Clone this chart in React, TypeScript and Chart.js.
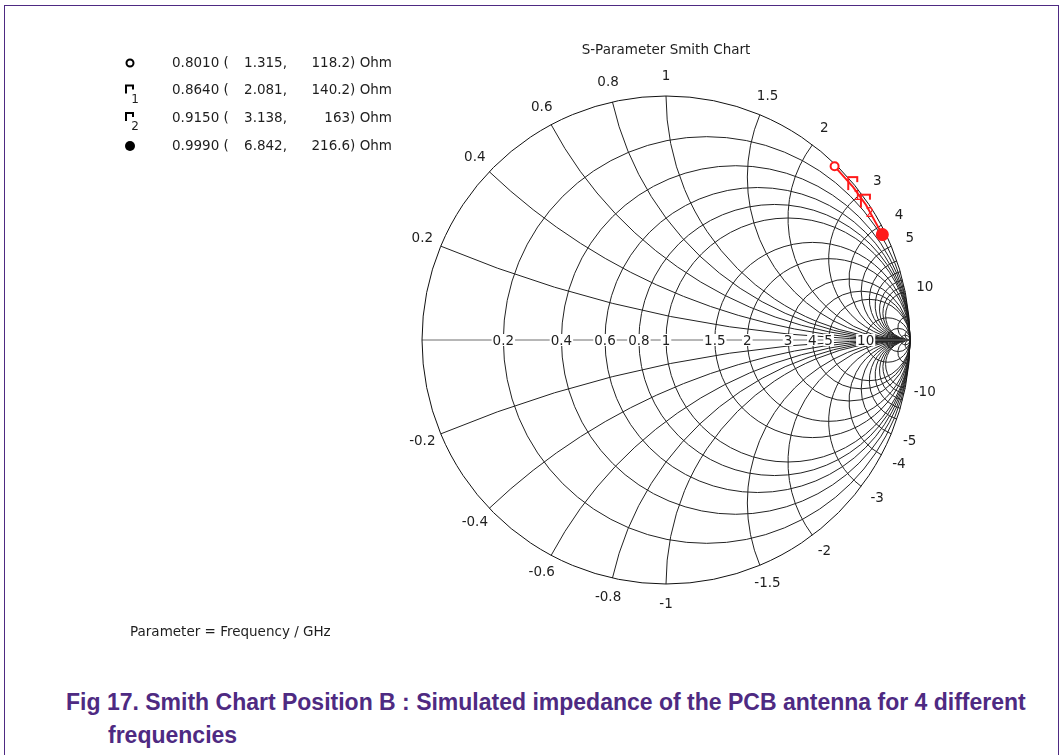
import React, { useEffect, useRef } from 'react';
import { Chart, registerables } from 'chart.js';
Chart.register(...registerables);

// ---- data ----
const Z0 = 50;
const freqGHz = [0.801, 0.864, 0.915, 0.999];
const resistanceOhm = [1.315, 2.081, 3.138, 6.842];
const reactanceOhm = [118.2, 140.2, 163, 216.6];
const markerNames = ['', '1', '2', ''];

// ---- Smith grid values and tick labels ----
const gridResistance = [0.2, 0.4, 0.6, 0.8, 1, 1.5, 2, 3, 4, 5, 10, 20, 50];
const gridReactance = [0.2, 0.4, 0.6, 0.8, 1, 1.5, 2, 3, 4, 5, 6, 7, 8, 9, 10, 20, 50];
const resistanceLabels = ['0.2', '0.4', '0.6', '0.8', '1', '1.5', '2', '3', '4', '5', '10'];
const reactanceLabels = ['0.2', '0.4', '0.6', '0.8', '1', '1.5', '2', '3', '4', '5', '10'];

const TITLE = 'S-Parameter Smith Chart';
const PARAM_TEXT = 'Parameter = Frequency / GHz';
const CAPTION1 = 'Fig 17. Smith Chart Position B : Simulated impedance of the PCB antenna for 4 different';
const CAPTION2 = 'frequencies';

const W = 1063;
const H = 672;
const CX = 666;
const CY = 340;
const RAD = 244;
const FONT = '13.5px "DejaVu Sans", sans-serif';
const TEXT_COLOR = '#1e1e1e';
const GRID_COLOR = '#222';
const RED = '#ff1a1a';
const PURPLE = '#4e2a82';

function gamma(r: number, x: number) {
  const den = (r + 1) * (r + 1) + x * x;
  return { re: (r * r + x * x - 1) / den, im: (2 * x) / den };
}

function makeBracket(color: string) {
  const c = document.createElement('canvas');
  c.width = 20;
  c.height = 24;
  const g = c.getContext('2d')!;
  g.strokeStyle = color;
  g.lineWidth = 2;
  g.beginPath();
  // data point sits at the canvas centre (10, 12)
  g.moveTo(5, 15);
  g.lineTo(5, 2);
  g.lineTo(14, 2);
  g.lineTo(14, 7);
  g.stroke();
  return c;
}

function drawBracket(ctx: CanvasRenderingContext2D, x: number, y: number, color: string) {
  ctx.save();
  ctx.strokeStyle = color;
  ctx.lineWidth = 2;
  ctx.beginPath();
  ctx.moveTo(x - 4, y + 4);
  ctx.lineTo(x - 4, y - 4);
  ctx.lineTo(x + 3, y - 4);
  ctx.lineTo(x + 3, y);
  ctx.stroke();
  ctx.restore();
}

const smithPlugin = {
  id: 'smithGrid',
  beforeDatasetsDraw(chart: any) {
    const { ctx } = chart;
    const sx = chart.scales.x;
    const sy = chart.scales.y;
    const px = (v: number) => sx.getPixelForValue(v);
    const py = (v: number) => sy.getPixelForValue(v);
    const cx = px(0);
    const cy = py(0);
    const R = px(1) - px(0);
    ctx.save();
    ctx.lineWidth = 1;
    ctx.strokeStyle = GRID_COLOR;
    // resistance circles
    gridResistance.forEach((r) => {
      ctx.beginPath();
      ctx.arc(px(r / (1 + r)), cy, R / (1 + r), 0, Math.PI * 2);
      ctx.stroke();
    });
    // reactance arcs
    gridReactance.forEach((x) => {
      [1, -1].forEach((s) => {
        const xv = s * x;
        const ccx = px(1);
        const ccy = py(1 / xv);
        const g = gamma(0, xv);
        const a0 = Math.atan2(py(g.im) - ccy, px(g.re) - ccx);
        const a1 = Math.atan2(cy - ccy, px(1) - ccx);
        ctx.beginPath();
        ctx.arc(ccx, ccy, R / x, a0, a1, xv > 0);
        ctx.stroke();
      });
    });
    // real axis
    ctx.strokeStyle = '#6e6e6e';
    ctx.beginPath();
    ctx.moveTo(px(-1), cy);
    ctx.lineTo(px(1), cy);
    ctx.stroke();
    // outer circle
    ctx.strokeStyle = '#111';
    ctx.beginPath();
    ctx.arc(cx, cy, R, 0, Math.PI * 2);
    ctx.stroke();

    // labels
    ctx.font = FONT;
    ctx.textAlign = 'center';
    ctx.textBaseline = 'middle';
    resistanceLabels.forEach((lab) => {
      const r = parseFloat(lab);
      const x = px((r - 1) / (r + 1));
      const w = ctx.measureText(lab).width;
      ctx.fillStyle = '#fff';
      ctx.fillRect(x - w / 2 - 1, cy - 6, w + 2, 12);
      ctx.fillStyle = TEXT_COLOR;
      ctx.fillText(lab, x, cy + 1);
    });
    reactanceLabels.forEach((lab) => {
      const v = parseFloat(lab);
      [1, -1].forEach((s) => {
        const g = gamma(0, s * v);
        const lx = cx + (R + 20) * g.re;
        const ly = cy - (R + 20) * g.im;
        ctx.fillStyle = TEXT_COLOR;
        ctx.fillText(s < 0 ? '-' + lab : lab, lx, ly);
      });
    });
    ctx.restore();
  },
  afterDatasetsDraw(chart: any) {
    const { ctx } = chart;
    const meta = chart.getDatasetMeta(0);
    ctx.save();
    ctx.font = FONT;
    ctx.fillStyle = RED;
    ctx.textAlign = 'center';
    ctx.textBaseline = 'middle';
    markerNames.forEach((n, i) => {
      if (!n) return;
      const el = meta.data[i];
      ctx.fillText(n, el.x + 4, el.y + 9);
    });
    ctx.restore();
  },
  afterDraw(chart: any) {
    const { ctx } = chart;
    ctx.save();
    ctx.font = FONT;
    ctx.fillStyle = TEXT_COLOR;
    ctx.textBaseline = 'middle';
    ctx.textAlign = 'center';
    ctx.fillText(TITLE, 666, 50);
    ctx.textAlign = 'left';
    ctx.fillText(PARAM_TEXT, 130, 632);

    // legend
    const rows = [63, 90.5, 118, 146];
    rows.forEach((y, i) => {
      const mx = 130;
      if (i === 0) {
        ctx.beginPath();
        ctx.arc(mx, y, 3.5, 0, Math.PI * 2);
        ctx.fillStyle = '#fff';
        ctx.fill();
        ctx.lineWidth = 2;
        ctx.strokeStyle = '#000';
        ctx.stroke();
      } else if (i === rows.length - 1) {
        ctx.beginPath();
        ctx.arc(mx, y, 5, 0, Math.PI * 2);
        ctx.fillStyle = '#000';
        ctx.fill();
      } else {
        drawBracket(ctx, mx, y - 1, '#000');
        ctx.fillStyle = TEXT_COLOR;
        ctx.font = '12px "DejaVu Sans", sans-serif';
        ctx.textAlign = 'center';
        ctx.fillText(markerNames[i], mx + 5, y + 9);
      }
      ctx.font = FONT;
      ctx.fillStyle = TEXT_COLOR;
      ctx.textAlign = 'left';
      ctx.fillText(freqGHz[i].toFixed(4) + ' (', 172, y);
      ctx.textAlign = 'right';
      ctx.fillText(resistanceOhm[i].toFixed(3) + ',', 287, y);
      ctx.fillText(String(reactanceOhm[i]) + ') Ohm', 392, y);
    });
    ctx.restore();
  },
};

export default function App() {
  const canvasRef = useRef<HTMLCanvasElement | null>(null);

  useEffect(() => {
    const canvas = canvasRef.current;
    if (!canvas) return;
    const bracket = makeBracket(RED);
    const pts = freqGHz.map((_, i) => {
      const g = gamma(resistanceOhm[i] / Z0, reactanceOhm[i] / Z0);
      return { x: g.re, y: g.im };
    });
    const chart = new Chart(canvas, {
      type: 'scatter',
      data: {
        datasets: [
          {
            label: 'S11',
            data: pts,
            showLine: true,
            borderColor: RED,
            borderWidth: 2,
            pointStyle: ['circle', bracket, bracket, 'circle'] as any,
            pointRadius: [4, 8, 8, 5.5],
            pointBorderWidth: 2,
            pointBorderColor: RED,
            pointBackgroundColor: ['#ffffff', RED, RED, RED],
            clip: false as any,
          },
        ],
      },
      options: {
        responsive: false,
        maintainAspectRatio: false,
        devicePixelRatio: 1,
        animation: false,
        layout: { padding: 0, autoPadding: false } as any,
        events: [],
        scales: {
          x: { type: 'linear', display: false, min: -CX / RAD, max: (W - CX) / RAD },
          y: { type: 'linear', display: false, min: -(H - CY) / RAD, max: CY / RAD },
        },
        plugins: {
          legend: { display: false },
          tooltip: { enabled: false },
          title: { display: false },
        },
      },
      plugins: [smithPlugin],
    });
    return () => chart.destroy();
  }, []);

  return (
    <div style={{ position: 'absolute', left: 0, top: 0, width: W, height: 755, overflow: 'hidden', background: '#fff' }}>
      <div
        style={{
          position: 'absolute',
          left: 4,
          top: 5,
          width: 1055,
          height: 800,
          boxSizing: 'border-box',
          borderLeft: `1px solid ${PURPLE}`,
          borderRight: `1px solid ${PURPLE}`,
          borderTop: `1px solid ${PURPLE}`,
        }}
      />
      <canvas ref={canvasRef} width={W} height={H} style={{ position: 'absolute', left: 0, top: 0, width: W, height: H }} />
      <div
        style={{
          position: 'absolute',
          left: 66,
          top: 686,
          font: 'bold 23px "Liberation Sans", Arial, sans-serif',
          lineHeight: '33px',
          color: PURPLE,
          whiteSpace: 'nowrap',
        }}
      >
        {CAPTION1}
      </div>
      <div
        style={{
          position: 'absolute',
          left: 108,
          top: 719,
          font: 'bold 23px "Liberation Sans", Arial, sans-serif',
          lineHeight: '33px',
          color: PURPLE,
          whiteSpace: 'nowrap',
        }}
      >
        {CAPTION2}
      </div>
    </div>
  );
}
